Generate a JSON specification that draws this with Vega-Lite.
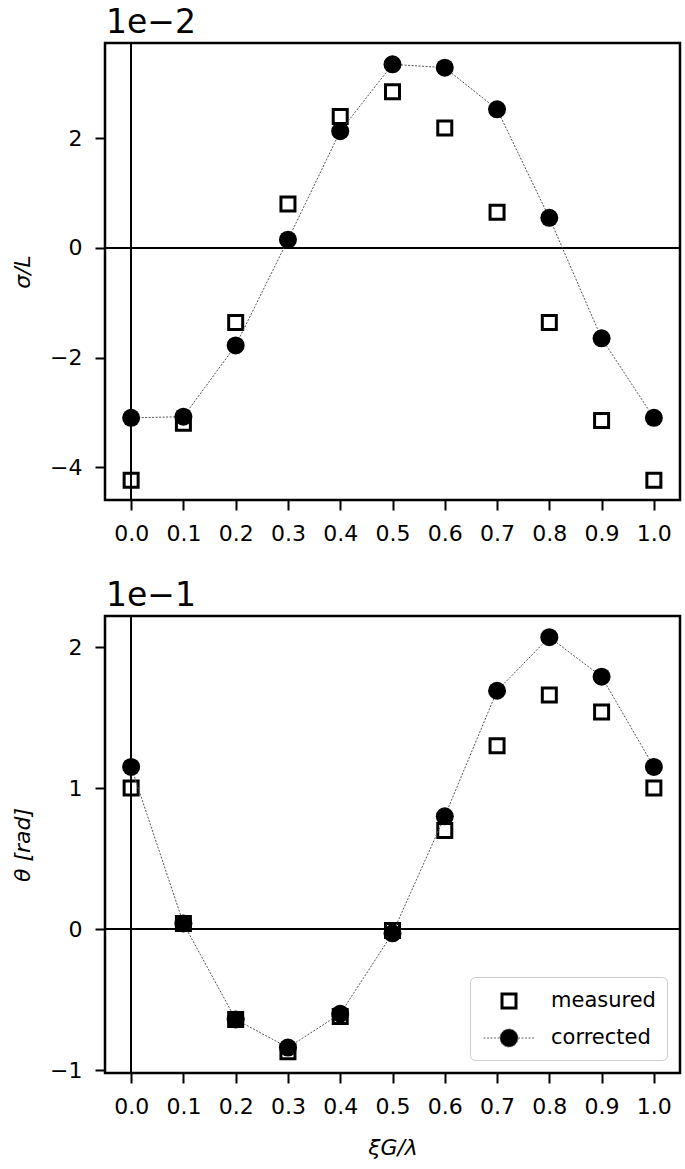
{
  "$schema": "https://vega.github.io/schema/vega-lite/v6.json",
  "padding": {"left": 10, "top": 6, "right": 5, "bottom": 5},
  "background": "white",
  "data": {"values": [
    {"panel": "sigma", "series": "measured", "xi": 0.0, "v": -4.24},
    {"panel": "sigma", "series": "measured", "xi": 0.1, "v": -3.20},
    {"panel": "sigma", "series": "measured", "xi": 0.2, "v": -1.36},
    {"panel": "sigma", "series": "measured", "xi": 0.3, "v": 0.80},
    {"panel": "sigma", "series": "measured", "xi": 0.4, "v": 2.40},
    {"panel": "sigma", "series": "measured", "xi": 0.5, "v": 2.85},
    {"panel": "sigma", "series": "measured", "xi": 0.6, "v": 2.19},
    {"panel": "sigma", "series": "measured", "xi": 0.7, "v": 0.65},
    {"panel": "sigma", "series": "measured", "xi": 0.8, "v": -1.36},
    {"panel": "sigma", "series": "measured", "xi": 0.9, "v": -3.15},
    {"panel": "sigma", "series": "measured", "xi": 1.0, "v": -4.24},
    {"panel": "sigma", "series": "corrected", "xi": 0.0, "v": -3.10},
    {"panel": "sigma", "series": "corrected", "xi": 0.1, "v": -3.08},
    {"panel": "sigma", "series": "corrected", "xi": 0.2, "v": -1.78},
    {"panel": "sigma", "series": "corrected", "xi": 0.3, "v": 0.15},
    {"panel": "sigma", "series": "corrected", "xi": 0.4, "v": 2.13},
    {"panel": "sigma", "series": "corrected", "xi": 0.5, "v": 3.35},
    {"panel": "sigma", "series": "corrected", "xi": 0.6, "v": 3.29},
    {"panel": "sigma", "series": "corrected", "xi": 0.7, "v": 2.53},
    {"panel": "sigma", "series": "corrected", "xi": 0.8, "v": 0.55},
    {"panel": "sigma", "series": "corrected", "xi": 0.9, "v": -1.65},
    {"panel": "sigma", "series": "corrected", "xi": 1.0, "v": -3.10},
    {"panel": "theta", "series": "measured", "xi": 0.0, "v": 1.00},
    {"panel": "theta", "series": "measured", "xi": 0.1, "v": 0.04},
    {"panel": "theta", "series": "measured", "xi": 0.2, "v": -0.64},
    {"panel": "theta", "series": "measured", "xi": 0.3, "v": -0.87},
    {"panel": "theta", "series": "measured", "xi": 0.4, "v": -0.62},
    {"panel": "theta", "series": "measured", "xi": 0.5, "v": -0.01},
    {"panel": "theta", "series": "measured", "xi": 0.6, "v": 0.70},
    {"panel": "theta", "series": "measured", "xi": 0.7, "v": 1.30},
    {"panel": "theta", "series": "measured", "xi": 0.8, "v": 1.66},
    {"panel": "theta", "series": "measured", "xi": 0.9, "v": 1.54},
    {"panel": "theta", "series": "measured", "xi": 1.0, "v": 1.00},
    {"panel": "theta", "series": "corrected", "xi": 0.0, "v": 1.15},
    {"panel": "theta", "series": "corrected", "xi": 0.1, "v": 0.04},
    {"panel": "theta", "series": "corrected", "xi": 0.2, "v": -0.64},
    {"panel": "theta", "series": "corrected", "xi": 0.3, "v": -0.84},
    {"panel": "theta", "series": "corrected", "xi": 0.4, "v": -0.60},
    {"panel": "theta", "series": "corrected", "xi": 0.5, "v": -0.03},
    {"panel": "theta", "series": "corrected", "xi": 0.6, "v": 0.80},
    {"panel": "theta", "series": "corrected", "xi": 0.7, "v": 1.69},
    {"panel": "theta", "series": "corrected", "xi": 0.8, "v": 2.07},
    {"panel": "theta", "series": "corrected", "xi": 0.9, "v": 1.79},
    {"panel": "theta", "series": "corrected", "xi": 1.0, "v": 1.15}
  ]},
  "spacing": 33,
  "resolve": {
    "scale": {"shape": "independent", "fill": "independent", "stroke": "independent", "strokeWidth": "independent", "strokeDash": "independent"},
    "legend": {"shape": "independent", "fill": "independent", "stroke": "independent", "strokeWidth": "independent", "strokeDash": "independent"}
  },
  "vconcat": [
    {
      "width": 575,
      "height": 457,
      "title": {"text": "1e−2", "anchor": "start", "frame": "group", "fontSize": 33, "fontWeight": "normal", "dx": 1, "offset": 2},
      "transform": [{"filter": "datum.panel === 'sigma'"}],
      "layer": [
        {"mark": {"type": "rule", "color": "black", "strokeWidth": 1.5}, "encoding": {"y": {"datum": 0, "type": "quantitative"}}},
        {"mark": {"type": "rule", "color": "black", "strokeWidth": 1.5}, "encoding": {"x": {"datum": 0, "type": "quantitative"}}},
        {
          "transform": [{"filter": "datum.series === 'measured'"}],
          "mark": {"type": "point", "shape": "square", "size": 196, "filled": false, "stroke": "black", "strokeWidth": 3, "opacity": 1},
          "encoding": {
            "x": {"field": "xi", "type": "quantitative", "scale": {"domain": [-0.05, 1.05], "nice": false, "zero": false},
              "axis": {"values": [0, 0.1, 0.2, 0.3, 0.4, 0.5, 0.6, 0.7, 0.8, 0.9, 1.0], "format": ".1f", "title": null,
                "labelFontSize": 22, "labelPadding": 13}},
            "y": {"field": "v", "type": "quantitative", "scale": {"domain": [-4.6, 3.74], "nice": false, "zero": false},
              "axis": {"values": [-4, -2, 0, 2], "format": "d", "title": "σ/L", "titleFontStyle": "italic",
                "labelFontSize": 22, "titleFontSize": 22, "labelPadding": 13, "titlePadding": 15, "minExtent": 55}}
          }
        },
        {
          "transform": [{"filter": "datum.series === 'corrected'"}],
          "mark": {"type": "line", "color": "#555555", "strokeWidth": 1, "strokeDash": [2, 1.5]},
          "encoding": {
            "x": {"field": "xi", "type": "quantitative"},
            "y": {"field": "v", "type": "quantitative"}
          }
        },
        {
          "transform": [{"filter": "datum.series === 'corrected'"}],
          "mark": {"type": "point", "shape": "circle", "size": 324, "filled": true, "color": "black", "opacity": 1},
          "encoding": {
            "x": {"field": "xi", "type": "quantitative"},
            "y": {"field": "v", "type": "quantitative"}
          }
        }
      ]
    },
    {
      "width": 575,
      "height": 457,
      "title": {"text": "1e−1", "anchor": "start", "frame": "group", "fontSize": 33, "fontWeight": "normal", "dx": 1, "offset": 2},
      "transform": [{"filter": "datum.panel === 'theta'"}],
      "layer": [
        {"mark": {"type": "rule", "color": "black", "strokeWidth": 1.5}, "encoding": {"y": {"datum": 0, "type": "quantitative"}}},
        {"mark": {"type": "rule", "color": "black", "strokeWidth": 1.5}, "encoding": {"x": {"datum": 0, "type": "quantitative"}}},
        {
          "transform": [{"filter": "datum.series === 'measured'"}],
          "mark": {"type": "point", "shape": "square", "size": 196, "filled": false, "stroke": "black", "strokeWidth": 3, "opacity": 1},
          "encoding": {
            "x": {"field": "xi", "type": "quantitative", "scale": {"domain": [-0.05, 1.05], "nice": false, "zero": false},
              "axis": {"values": [0, 0.1, 0.2, 0.3, 0.4, 0.5, 0.6, 0.7, 0.8, 0.9, 1.0], "format": ".1f", "title": "ξG/λ", "titleFontStyle": "italic",
                "labelFontSize": 22, "labelPadding": 13, "titleFontSize": 22, "titlePadding": 20}},
            "y": {"field": "v", "type": "quantitative", "scale": {"domain": [-1.02, 2.22], "nice": false, "zero": false},
              "axis": {"values": [-1, 0, 1, 2], "format": "d", "title": "θ [rad]", "titleFontStyle": "italic",
                "labelFontSize": 22, "titleFontSize": 22, "labelPadding": 13, "titlePadding": 15, "minExtent": 55}}
          }
        },
        {
          "transform": [{"filter": "datum.series === 'corrected'"}],
          "mark": {"type": "line", "color": "#555555", "strokeWidth": 1, "strokeDash": [2, 1.5]},
          "encoding": {
            "x": {"field": "xi", "type": "quantitative"},
            "y": {"field": "v", "type": "quantitative"}
          }
        },
        {
          "transform": [{"filter": "datum.series === 'corrected'"}],
          "mark": {"type": "point", "shape": "circle", "size": 324, "filled": true, "color": "black", "opacity": 1},
          "encoding": {
            "x": {"field": "xi", "type": "quantitative"},
            "y": {"field": "v", "type": "quantitative"}
          }
        },
        {
          "mark": {"type": "point", "opacity": 0, "filled": true},
          "encoding": {
            "x": {"field": "xi", "type": "quantitative"},
            "y": {"field": "v", "type": "quantitative"},
            "shape": {"field": "series", "type": "nominal",
              "scale": {"domain": ["measured", "corrected"], "range": ["M-0.622,-0.622H0.622V0.622H-0.622Z", "M-2.27,0H-0.8M0.8,0H2.27M-0.8,0A0.8,0.8 0 1,1 0.8,0A0.8,0.8 0 1,1 -0.8,0Z"]},
              "legend": {
                "title": null, "orient": "bottom-right", "offset": 13, "padding": 11,
                "strokeColor": "#cccccc", "fillColor": "white", "cornerRadius": 5,
                "labelFontSize": 21, "labelColor": "black", "labelOffset": 29,
                "symbolSize": 506, "symbolOffset": 15, "rowPadding": 12, "symbolOpacity": 1
              }},
            "fill": {"field": "series", "type": "nominal", "scale": {"domain": ["measured", "corrected"], "range": ["transparent", "black"]}},
            "stroke": {"field": "series", "type": "nominal", "scale": {"domain": ["measured", "corrected"], "range": ["black", "#666666"]}},
            "strokeWidth": {"field": "series", "type": "nominal", "scale": {"domain": ["measured", "corrected"], "range": [3, 1]}},
            "strokeDash": {"field": "series", "type": "nominal", "scale": {"domain": ["measured", "corrected"], "range": [[1, 0], [2, 1.5]]}}
          }
        }
      ]
    }
  ],
  "config": {
    "font": "DejaVu Sans",
    "view": {"stroke": "black", "strokeWidth": 2.5},
    "title": {"color": "black", "font": "DejaVu Sans"},
    "legend": {"labelFont": "DejaVu Sans", "symbolOpacity": 1},
    "axis": {
      "domain": false,
      "tickColor": "black", "tickWidth": 2, "tickSize": 10,
      "labelFontSize": 22, "labelColor": "black", "labelFont": "DejaVu Sans",
      "titleFontSize": 22, "titleFontWeight": "normal", "titleColor": "black", "titleFont": "DejaVu Sans",
      "gridColor": "#e2e2e2", "gridWidth": 1
    }
  }
}
